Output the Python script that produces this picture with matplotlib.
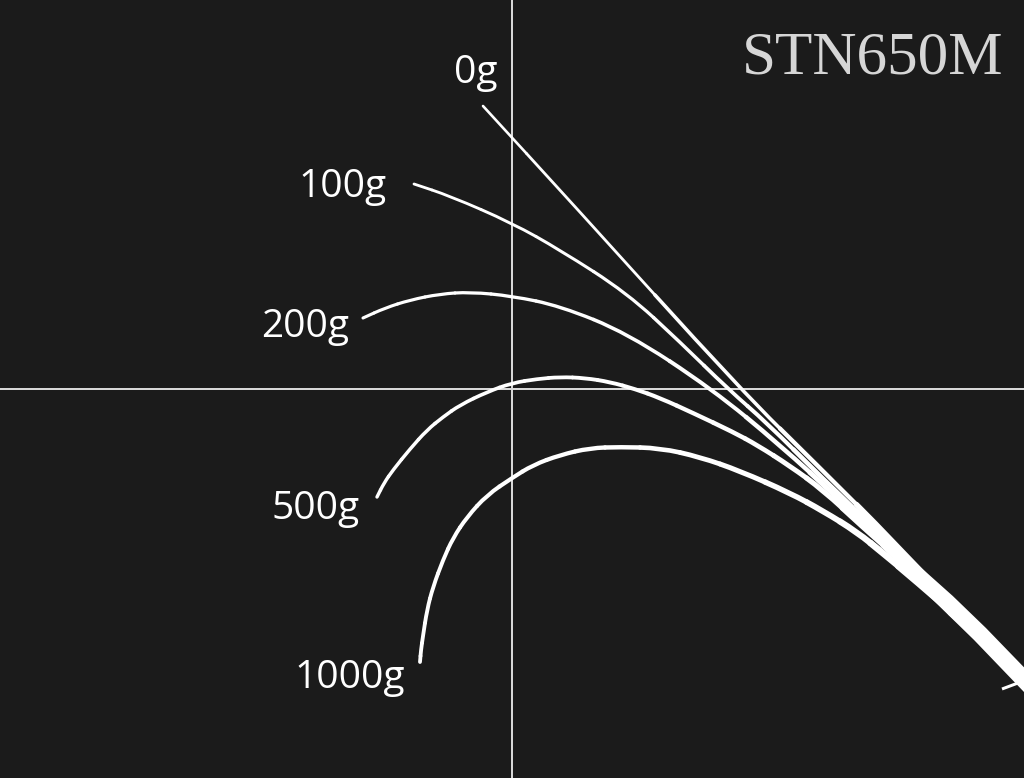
import numpy as np
import matplotlib
matplotlib.use("Agg")
import matplotlib.pyplot as plt
from matplotlib.path import Path
from matplotlib.patches import PathPatch
from matplotlib.collections import PatchCollection

# rod bend curves in pixel coordinates (y grows downwards)
loads = ["0g", "100g", "200g", "500g", "1000g"]

x_0g = [483, 570, 740, 820, 893, 990]
y_0g = [106, 201, 389, 468, 541, 645]

x_100g = [414, 450, 512, 560, 627, 680, 728, 767, 820, 893, 990]
y_100g = [184, 196, 223, 250, 293, 342, 389, 423, 476, 546, 645]

x_200g = [363, 385, 410, 440, 470, 512, 560, 627, 712, 780, 840, 900, 990]
y_200g = [318, 308, 300, 294, 292, 296, 306, 333, 389, 445, 500, 556, 645]

x_500g = [377, 384, 393, 410, 427, 443, 460, 487, 512, 537, 560, 585, 610, 635,
          660, 693, 733, 757, 790, 823, 862, 905, 990]
y_500g = [497, 483, 470, 449, 430, 417, 405, 392, 383, 379, 377, 378, 382, 389,
          398, 413, 432, 445, 466, 490, 526, 564, 645]

x_1000g = [420, 421, 423, 427, 433, 443, 453, 467, 487, 512, 533, 560, 590, 620,
           660, 700, 740, 790, 823, 857, 884, 913, 990]
y_1000g = [662, 650, 636, 610, 587, 560, 538, 517, 495, 478, 465, 455, 448, 447,
           448, 457, 471, 493, 511, 532, 554, 578, 645]

# common butt section of the rod
butt_x = [875, 913, 947, 980, 1007, 1034]
butt_y = [533, 570, 602, 634, 662, 690]

hook_x = [1018, 1002]
hook_y = [683, 689]

# label anchors (centre x, baseline y)
label_x = [476, 343, 305, 316, 350]
label_y = [83, 197, 337, 519, 688]

title = "STN650M"
cross_x = 512
cross_y = 389

curves = [(x_0g, y_0g), (x_100g, y_100g), (x_200g, y_200g),
          (x_500g, y_500g), (x_1000g, y_1000g)]
base_width = [2.4, 2.6, 2.9, 3.2, 3.6]  # px at the tip

BG = "#1b1b1b"
PX = 0.72  # points per pixel at dpi 100


def tapered(ax, xs, ys, base):
    # smooth quadratic pieces between midpoints, each piece with its own width
    p = np.column_stack([xs, ys]).astype(float)
    m = (p[:-1] + p[1:]) / 2
    pieces = [Path([p[0], m[0]], [Path.MOVETO, Path.LINETO])]
    for i in range(1, len(p) - 1):
        pieces.append(Path([m[i - 1], p[i], m[i]],
                           [Path.MOVETO, Path.CURVE3, Path.CURVE3]))
    pieces.append(Path([m[-1], p[-1]], [Path.MOVETO, Path.LINETO]))
    seglen = np.hypot(*np.diff(p, axis=0).T)
    s = np.append(np.cumsum(seglen[::-1])[::-1], 0.0)  # arc length to the butt end
    s_piece = np.concatenate([[s[0]], s[1:-1], [0.0]])
    w = base + 5.5 * np.exp(-s_piece / 230)
    pc = PatchCollection([PathPatch(q) for q in pieces], facecolors="none",
                         edgecolors="white", linewidths=w * PX,
                         capstyle="round", joinstyle="round", zorder=3)
    ax.add_collection(pc)


fig = plt.figure(figsize=(10.24, 7.78), dpi=100, facecolor=BG)
ax = fig.add_axes([0, 0, 1, 1])
ax.set_facecolor(BG)
ax.set_xlim(0, 1024)
ax.set_ylim(778, 0)
ax.axis("off")

ax.axvline(cross_x, color="#d8d8d8", lw=2 * PX, zorder=1)
ax.axhline(cross_y, color="#d8d8d8", lw=2 * PX, zorder=1)

for (xs, ys), b in zip(curves, base_width):
    tapered(ax, xs, ys, b)

# butt as a tapered band, narrow where the curves join it
c = np.column_stack([butt_x, butt_y]).astype(float)
d = np.gradient(c, axis=0)
d /= np.hypot(d[:, 0], d[:, 1])[:, None]
n = np.column_stack([-d[:, 1], d[:, 0]])
hw = np.interp(c[:, 0], [875, 930, 1034], [4.5, 8.3, 8.6])[:, None]
edge = np.vstack([c + n * hw, (c - n * hw)[::-1]])
ax.fill(edge[:, 0], edge[:, 1], color="white", lw=0, zorder=4)
ax.plot(hook_x, hook_y, color="white", lw=3 * PX, solid_capstyle="butt", zorder=4)

for lab, lx, ly in zip(loads, label_x, label_y):
    ax.text(lx, ly, lab, color="white", fontsize=28, family="Open Sans",
            ha="center", va="baseline", zorder=5)

ax.text(1003, 73, title, color="#d6d6d6", fontsize=44, family="Liberation Serif",
        ha="right", va="baseline", zorder=5)

fig.savefig("out.png", dpi=100, facecolor=BG)
